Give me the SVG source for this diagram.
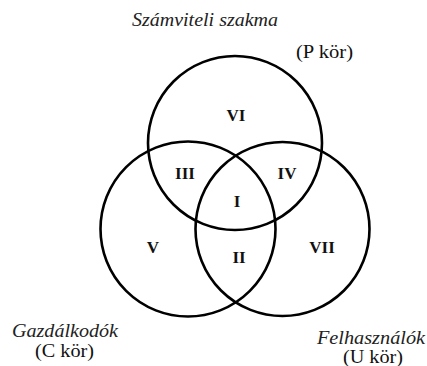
<svg xmlns="http://www.w3.org/2000/svg" width="427" height="366" viewBox="0 0 427 366">
<style>
.c{fill:none;stroke:#000;stroke-width:2.6}
.n{font-family:"Liberation Serif",serif;font-size:17px;font-weight:bold;text-anchor:middle;fill:#111}
.l{font-family:"Liberation Serif",serif;font-size:19.5px;font-style:italic;fill:#222}
.p{font-family:"Liberation Serif",serif;font-size:19px;fill:#111}
</style>
<rect width="427" height="366" fill="#fff"/>
<g id="circles">
<circle id="P" class="c" cx="235" cy="143" r="87"/>
<circle id="C" class="c" cx="188" cy="229" r="87.5"/>
<circle id="U" class="c" cx="282.5" cy="229" r="87"/>
</g>
<g id="regions">
<text class="n" x="236" y="121">VI</text>
<text class="n" x="185" y="179">III</text>
<text class="n" x="287" y="179">IV</text>
<text class="n" x="237" y="207">I</text>
<text class="n" x="153" y="253">V</text>
<text class="n" x="239" y="263">II</text>
<text class="n" x="322" y="253">VII</text>
</g>
<g id="labels">
<text class="l" x="132" y="26" textLength="146" lengthAdjust="spacingAndGlyphs">Számviteli szakma</text>
<text class="p" x="296" y="58" textLength="57" lengthAdjust="spacingAndGlyphs">(P kör)</text>
<text class="l" x="12" y="337" textLength="106" lengthAdjust="spacingAndGlyphs">Gazdálkodók</text>
<text class="p" x="35" y="357" textLength="59" lengthAdjust="spacingAndGlyphs">(C kör)</text>
<text class="l" x="317" y="344" textLength="108" lengthAdjust="spacingAndGlyphs">Felhasználók</text>
<text class="p" x="343" y="363" textLength="60" lengthAdjust="spacingAndGlyphs">(U kör)</text>
</g>
</svg>
